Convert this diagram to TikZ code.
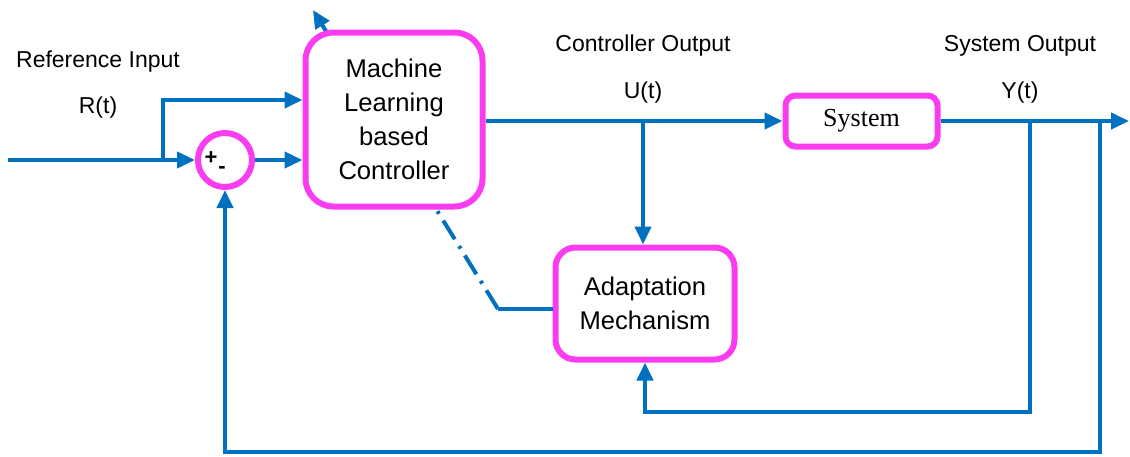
\documentclass[tikz,border=0pt]{standalone}
\usepackage{fontspec}
\setmainfont{Liberation Sans}
\newfontfamily\serifsys{Liberation Serif}
\usetikzlibrary{arrows.meta}
\definecolor{lblue}{RGB}{0,112,192}
\definecolor{pmag}{RGB}{250,60,240}
\begin{document}
\begin{tikzpicture}[x=0.5pt,y=-0.5pt,
  conn/.style={draw=lblue,line width=2pt},
  arr/.style={conn,-{Triangle[length=9pt,width=8pt]}},
  blk/.style={draw=pmag,line width=3pt,fill=white,align=center,font=\fontsize{12.8}{17}\selectfont,inner sep=0pt},
  txt/.style={font=\fontsize{11.5}{14}\selectfont,inner sep=0pt},
  dashdotline/.style={conn,dash pattern=on 11pt off 4pt on 1.5pt off 4pt}]
\useasboundingbox (0,0) rectangle (1130,456);
% adaptation path through the controller (drawn behind it)
\coordinate (dcorner) at (498,309);
\coordinate (dmid) at (350,70);
\coordinate (dtip) at (313,10);
\draw[dashdotline] (dcorner) -- (dmid);
\draw[arr] (dmid) -- (dtip);
% blocks
\node[blk,minimum width=88.5pt,minimum height=87pt,rounded corners=14pt] (ctrl) at (394,119.5) {Machine\\Learning\\based\\Controller};
\node[blk,minimum width=89.5pt,minimum height=56pt,rounded corners=10pt] (adapt) at (645,303.5) {Adaptation\\Mechanism};
\node[blk,minimum width=76pt,minimum height=25.5pt,rounded corners=5pt,font=\serifsys\fontsize{13}{15}\selectfont] (sys) at (861.5,121) {System};
\node[draw=pmag,line width=3pt,circle,minimum size=27pt,inner sep=0pt,fill=white] (sum) at (225,160) {};
\node[inner sep=0pt,font=\bfseries\fontsize{11}{12}\selectfont] (plus) at (211,158) {+};
\node[inner sep=0pt,font=\bfseries\fontsize{11}{12}\selectfont] (minus) at (222,170) {-};
% coordinates
\coordinate (in) at (8,160);
\coordinate (b1) at (163,160);
\coordinate (r1) at (163,100);
\coordinate (u) at (643,121);
\coordinate (y1) at (1030,121);
\coordinate (y2) at (1100,121);
\coordinate (out) at (1129,121);
\coordinate (f1) at (1030,412);
\coordinate (f2) at (1100,452);
% connectors
\draw[arr] (in) -- (sum.west);
\draw[arr] (b1) -- (r1) -- (r1 -| ctrl.west);
\draw[arr] (sum.east) -- (sum.east -| ctrl.west);
\draw[conn] (ctrl.east |- u) -- (u);
\draw[arr] (u) -- (sys.west);
\draw[arr] (u) -- (u |- adapt.north);
\draw[arr] (sys.east) -- (out);
\draw[arr] (y1) -- (f1) -| (adapt.south);
\draw[arr] (y2) -- (f2) -| (sum.south);
\draw[conn] (adapt.west |- dcorner) -- (dcorner);
% labels
\node[txt] (lref) at (98,62) {Reference Input};
\node[txt] (lr) at (98,108) {R(t)};
\node[txt] (lco) at (643,46) {Controller Output};
\node[txt] (lu) at (643,93) {U(t)};
\node[txt] (lso) at (1020,46) {System Output};
\node[txt] (ly) at (1020,93) {Y(t)};
\end{tikzpicture}
\end{document}
